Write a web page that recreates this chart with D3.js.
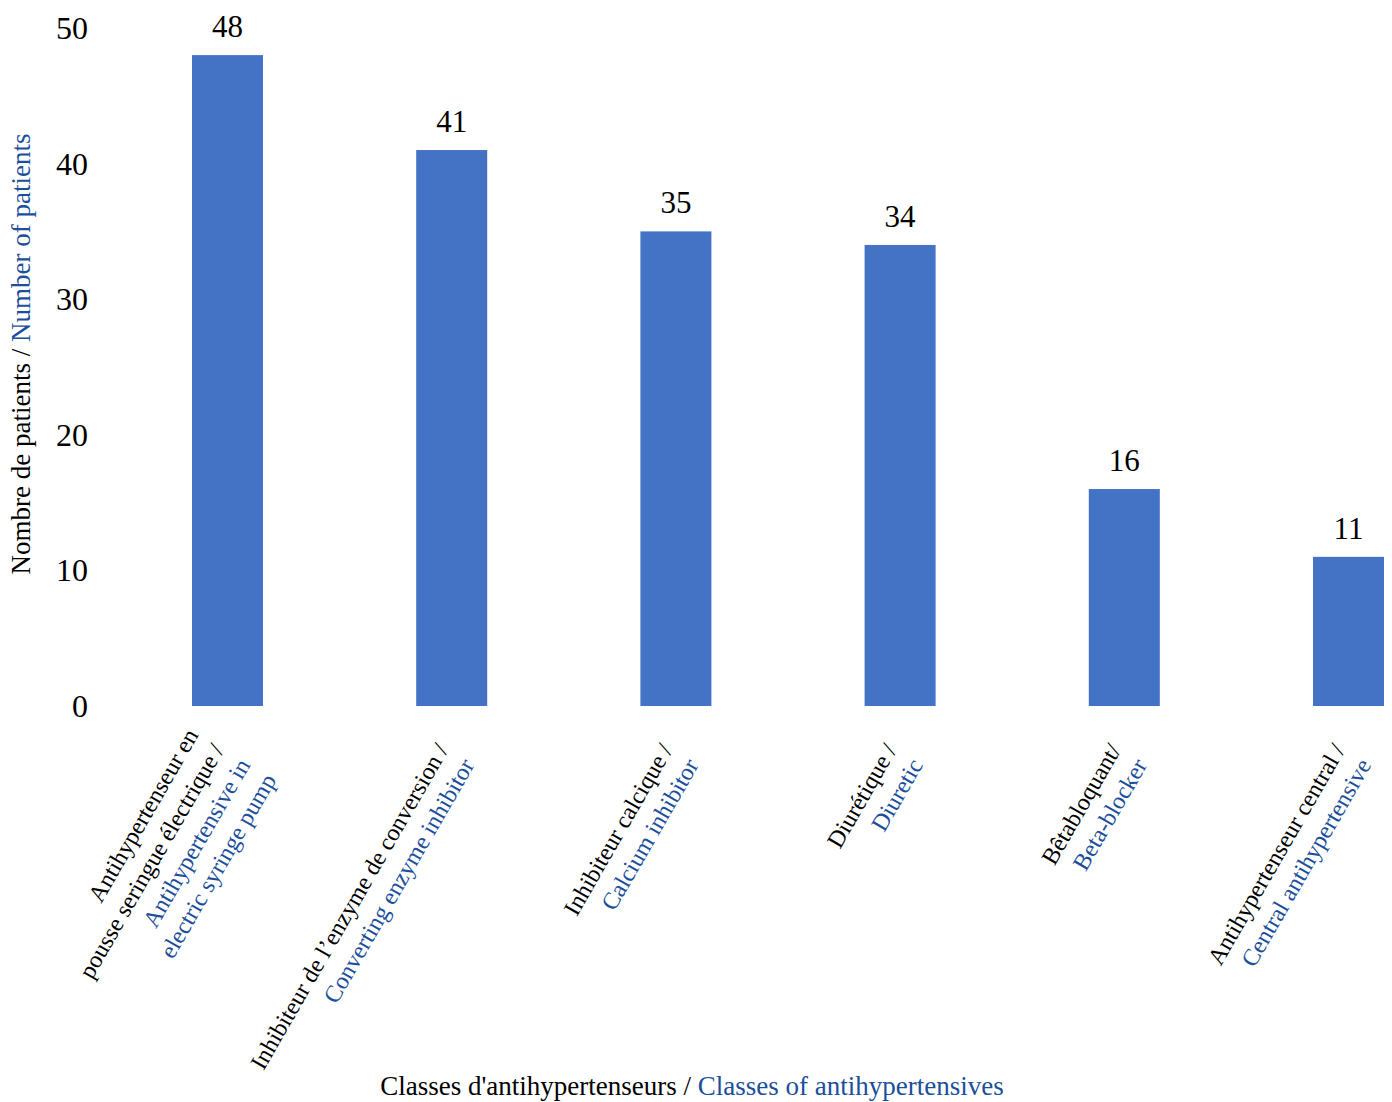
<!DOCTYPE html>
<html><head><meta charset="utf-8">
<script src="https://cdn.jsdelivr.net/npm/d3@7"></script>
<style>body{margin:0;background:#fff}svg{display:block}</style>
</head><body>
<script>
const categoriesFr = [
  ["Antihypertenseur en", "pousse seringue électrique /"],
  ["Inhibiteur de l’enzyme de conversion /"],
  ["Inhibiteur calcique /"],
  ["Diurétique /"],
  ["Bêtabloquant/"],
  ["Antihypertenseur central /"]
];
const categoriesEn = [
  ["Antihypertensive in", "electric syringe pump"],
  ["Converting enzyme inhibitor"],
  ["Calcium inhibitor"],
  ["Diuretic"],
  ["Beta-blocker"],
  ["Central antihypertensive"]
];
const values = [48, 41, 35, 34, 16, 11];
const yTicks = [0, 10, 20, 30, 40, 50];

const W = 1392, H = 1102;
const BLUE_TXT = "#1B4E9B", BAR = "#4472C4";
const FONT = "'Liberation Serif','Times New Roman',serif";

const svg = d3.select("body").append("svg").attr("width", W).attr("height", H)
  .style("font-family", FONT);

const idx = values.map((d, i) => i);
const x = d3.scaleBand().domain(idx).range([115.4, 1460.6])
  .paddingInner(0.6833).paddingOuter(0.34165);
const y = d3.scaleLinear().domain([0, 50]).range([706, 28]);

// bars
svg.append("g").selectAll("rect").data(idx).join("rect")
  .attr("x", i => x(i)).attr("width", x.bandwidth())
  .attr("y", i => y(values[i])).attr("height", i => y(0) - y(values[i]))
  .attr("fill", BAR);

// value labels
svg.append("g").selectAll("text").data(idx).join("text")
  .attr("x", i => x(i) + x.bandwidth() / 2)
  .attr("y", i => y(values[i]) - 18)
  .attr("text-anchor", "middle").attr("font-size", 31).attr("fill", "#000")
  .text(i => values[i]);

// y axis (labels only)
const yAxis = d3.axisLeft(y).tickValues(yTicks).tickSize(0).tickPadding(0);
const gy = svg.append("g").attr("transform", "translate(88,0)").call(yAxis);
gy.select(".domain").remove();
gy.selectAll("text").attr("font-size", 32).attr("font-family", FONT).attr("fill", "#000")
  .attr("dy", "0.33em");

// x category labels
const lh = 30;
const gx = svg.append("g");
idx.forEach(i => {
  const lines = categoriesFr[i].map(t => ({t, c: "#000"}))
    .concat(categoriesEn[i].map(t => ({t, c: BLUE_TXT})));
  const n = lines.length;
  const cx = x(i) + x.bandwidth() / 2 - 9;
  const g = gx.append("g").attr("transform", `translate(${cx},775) rotate(-60)`);
  lines.forEach((l, k) => {
    g.append("text").attr("x", 25).attr("y", (k - (n - 1) / 2) * lh + 8)
      .attr("text-anchor", "end").attr("font-size", 24).attr("fill", l.c).text(l.t);
  });
});

// y axis title
const yt = svg.append("text").attr("transform", "translate(30,354) rotate(-90)")
  .attr("text-anchor", "middle").attr("font-size", 27);
yt.append("tspan").attr("fill", "#000").text("Nombre de patients / ");
yt.append("tspan").attr("fill", BLUE_TXT).text("Number of patients");

// x axis title
const xt = svg.append("text").attr("x", 692).attr("y", 1095)
  .attr("text-anchor", "middle").attr("font-size", 27);
xt.append("tspan").attr("fill", "#000").text("Classes d'antihypertenseurs / ");
xt.append("tspan").attr("fill", BLUE_TXT).text("Classes of antihypertensives");
</script>
</body></html>
